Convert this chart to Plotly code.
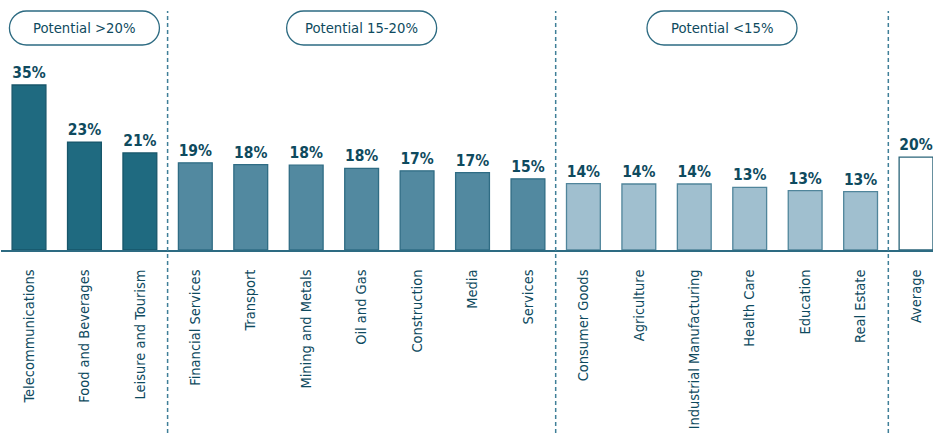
import plotly.graph_objects as go

categories = ["Telecommunications", "Food and Beverages", "Leisure and Tourism",
              "Financial Services", "Transport", "Mining and Metals", "Oil and Gas",
              "Construction", "Media", "Services", "Consumer Goods", "Agriculture",
              "Industrial Manufacturing", "Health Care", "Education", "Real Estate", "Average"]
values = [35.0, 22.9, 20.6, 18.5, 18.1, 18.0, 17.3, 16.8, 16.4, 15.1,
          14.1, 14.0, 14.0, 13.3, 12.6, 12.4, 19.7]
labels = ["35%", "23%", "21%", "19%", "18%", "18%", "18%", "17%", "17%", "15%",
          "14%", "14%", "14%", "13%", "13%", "13%", "20%"]
groups = ["high"] * 3 + ["mid"] * 7 + ["low"] * 6 + ["avg"]
group_titles = ["Potential >20%", "Potential 15-20%", "Potential <15%"]
group_spans = [(0, 2), (3, 9), (10, 15)]

FILL = {"high": "#1f6a80", "mid": "#5289a0", "low": "#a0bfcf", "avg": "#ffffff"}
EDGE = {"high": "#17566a", "mid": "#2f6c84", "low": "#50859b", "avg": "#2a6479"}
TEXT = "#0e4a5e"
FONT = "DejaVu Sans Condensed, Liberation Sans Narrow, Arial Narrow, sans-serif"

W, H = 933, 433
ML, MR, MT, MB = 1, 0, 0, 183
PW, PH = W - ML - MR, H - MT - MB
XR = [-0.505, 16.306]
YR = [0, 53.03]

fig = go.Figure()
fig.add_trace(go.Bar(
    x=list(range(len(categories))), y=values,
    text=labels, textposition="outside",
    textfont=dict(family=FONT, size=15.5, color=TEXT, weight="bold"),
    marker=dict(color=[FILL[g] for g in groups],
                line=dict(color=[EDGE[g] for g in groups], width=1.3)),
    width=0.61, cliponaxis=False, hoverinfo="skip",
))


def px_to_paper(px, py):
    return (px - ML) / PW, (MT + PH - py) / PH


def data_to_px(xv):
    return ML + (xv - XR[0]) / (XR[1] - XR[0]) * PW


def pill_path(cx, top, bottom, half_w):
    r = (bottom - top) / 2
    k = 0.5523 * r
    x0, x1 = cx - half_w, cx + half_w

    def P(x, y):
        a, b = px_to_paper(x, y)
        return f"{a:.5f},{b:.5f}"
    d = f"M {P(x0 + r, top)} L {P(x1 - r, top)} "
    d += f"C {P(x1 - r + k, top)} {P(x1, top + r - k)} {P(x1, top + r)} "
    d += f"C {P(x1, top + r + k)} {P(x1 - r + k, bottom)} {P(x1 - r, bottom)} "
    d += f"L {P(x0 + r, bottom)} "
    d += f"C {P(x0 + r - k, bottom)} {P(x0, bottom - r + k)} {P(x0, bottom - r)} "
    d += f"C {P(x0, top + r - k)} {P(x0 + r - k, top)} {P(x0 + r, top)} Z"
    return d


for title, (a, b) in zip(group_titles, group_spans):
    cx = data_to_px((a + b) / 2)
    fig.add_shape(type="path", xref="paper", yref="paper",
                  path=pill_path(cx, 11, 45, 75),
                  line=dict(color="#2d6b82", width=1.3), fillcolor="white")
    xp, yp = px_to_paper(cx, 28)
    fig.add_annotation(x=xp, y=yp, xref="paper", yref="paper", text=title,
                       showarrow=False, font=dict(family=FONT, size=14.7, color=TEXT),
                       xanchor="center", yanchor="middle")

for a, b in group_spans:
    fig.add_shape(type="line", xref="x", yref="paper", x0=b + 0.5, x1=b + 0.5,
                  y0=px_to_paper(0, H)[1], y1=px_to_paper(0, 11)[1],
                  line=dict(color="#3f7f98", width=1.5, dash="4px,3px"))

fig.update_layout(
    width=W, height=H, margin=dict(l=ML, r=MR, t=MT, b=MB, autoexpand=False),
    plot_bgcolor="white", paper_bgcolor="white", showlegend=False,
    xaxis=dict(range=XR, tickmode="array", tickvals=list(range(len(categories))),
               ticktext=categories, tickangle=-90, showgrid=False, zeroline=False,
               showline=True, linecolor="#2d6b82", linewidth=1.5, ticks="",
               ticklabelstandoff=12, automargin=False,
               tickfont=dict(family=FONT, size=14.5, color=TEXT)),
    yaxis=dict(range=YR, visible=False, showgrid=False, zeroline=False, automargin=False),
)

fig.write_html("out.html")
